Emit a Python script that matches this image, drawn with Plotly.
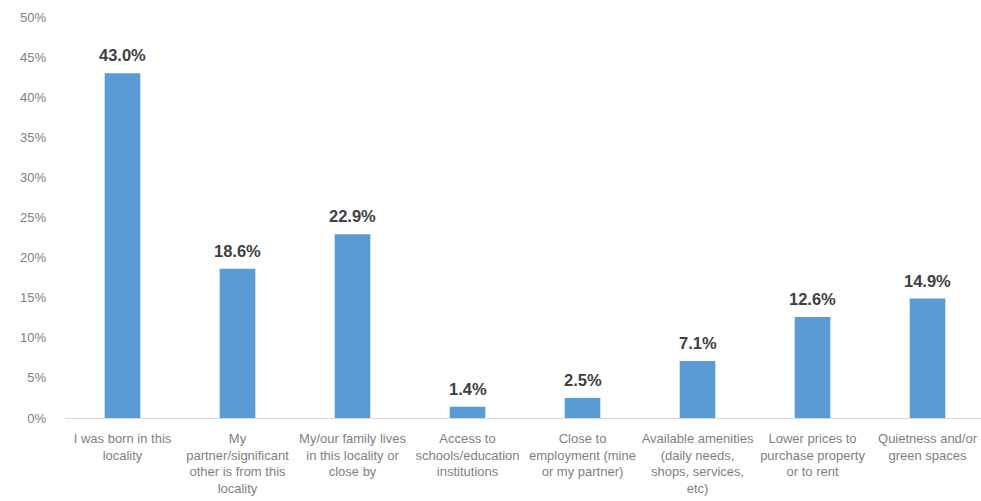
import plotly.graph_objects as go

categories = [
    "I was born in this<br>locality",
    "My<br>partner/significant<br>other is from this<br>locality",
    "My/our family lives<br>in this locality or<br>close by",
    "Access to<br>schools/education<br>institutions",
    "Close to<br>employment (mine<br>or my partner)",
    "Available amenities<br>(daily needs,<br>shops, services,<br>etc)",
    "Lower prices to<br>purchase property<br>or to rent",
    "Quietness and/or<br>green spaces",
]
values = [43.0, 18.6, 22.9, 1.4, 2.5, 7.1, 12.6, 14.9]
y_ticks = [0, 5, 10, 15, 20, 25, 30, 35, 40, 45, 50]
y_tick_labels = [f"{t}%" for t in y_ticks]

font_family = "Liberation Sans, Arial, sans-serif"
bar_color = "#5B9BD5"

x_pos = list(range(len(categories)))

fig = go.Figure(
    go.Bar(
        x=x_pos,
        y=values,
        width=0.31,
        marker=dict(color=bar_color, line=dict(width=0)),
        hoverinfo="skip",
    )
)

# value labels above each bar
for xi, v in zip(x_pos, values):
    fig.add_annotation(
        x=xi, y=v, text=f"<b>{v:.1f}%</b>",
        showarrow=False, yanchor="bottom", yshift=7,
        font=dict(family=font_family, size=16.5, color="#404040"),
    )

fig.update_layout(
    width=981, height=501,
    margin=dict(l=65, r=0, t=17, b=83),
    paper_bgcolor="white", plot_bgcolor="white",
    showlegend=False,
    font=dict(family=font_family, color="#7F7F7F"),
    xaxis=dict(
        range=[-0.5, 7.465],
        tickmode="array", tickvals=x_pos, ticktext=categories,
        tickangle=0,
        tickfont=dict(size=13, color="#7F7F7F"),
        showgrid=False, zeroline=False,
        showline=True, linecolor="#D9D9D9", linewidth=1,
        ticks="", ticklabelstandoff=8,
    ),
    yaxis=dict(
        range=[0, 50],
        tickmode="array", tickvals=y_ticks, ticktext=y_tick_labels,
        tickfont=dict(size=13, color="#7F7F7F"),
        showgrid=False, zeroline=False, showline=False,
        ticks="", ticklabelstandoff=18,
    ),
)

fig.write_html("out.html")
